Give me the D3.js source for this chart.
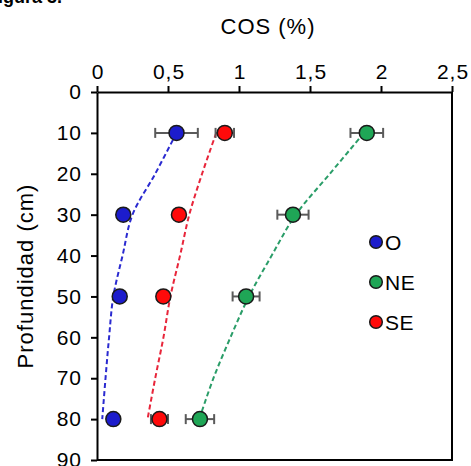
<!DOCTYPE html>
<html>
<head>
<meta charset="utf-8">
<script src="https://cdn.jsdelivr.net/npm/d3@7"></script>
<style>
  body { margin: 0; background: #fff; }
  text { font-family: "Liberation Sans", Arial, sans-serif; }
</style>
</head>
<body>
<div id="chart"></div>
<script>
const width = 471;
const height = 466;

// depths (cm) of the sampled layers
const depths = [10, 30, 50, 80];

// COS (%) means and error bars per zone
const cosO = [0.56, 0.185, 0.16, 0.115];
const errO = [0.15, 0.03, 0.03, 0.02];
const cosNE = [1.9, 1.38, 1.05, 0.725];
const errNE = [0.115, 0.11, 0.095, 0.1];
const cosSE = [0.9, 0.577, 0.467, 0.44];
const errSE = [0.065, 0.03, 0.03, 0.06];

// dashed trend lines
const fitDepths = [10, 20, 30, 40, 50, 60, 70, 80];
const fitO = [0.56, 0.41, 0.25, 0.18, 0.115, 0.085, 0.06, 0.037];
const fitNE = [1.88, 1.64, 1.4, 1.23, 1.07, 0.94, 0.82, 0.72];
const fitSE = [0.84, 0.74, 0.65, 0.585, 0.517, 0.468, 0.41, 0.356];

const xTicks = [0, 0.5, 1, 1.5, 2, 2.5];
const yTicks = [0, 10, 20, 30, 40, 50, 60, 70, 80, 90];

const series = [
  { name: "O", cos: cosO, err: errO, fit: fitO, fill: "#1c1ccc", line: "#2a2ad0" },
  { name: "NE", cos: cosNE, err: errNE, fit: fitNE, fill: "#1fa656", line: "#2a9d68" },
  { name: "SE", cos: cosSE, err: errSE, fit: fitSE, fill: "#ff0a0a", line: "#e8253a" },
];

const svg = d3
  .select("#chart")
  .append("svg")
  .attr("width", width)
  .attr("height", height);

let x = d3.scaleLinear().domain([0, 2.5]).range([97, 452]);
let y = d3.scaleLinear().domain([0, 90]).range([92, 460]);

// cut-off caption at the very top
svg
  .append("text")
  .attr("x", 62)
  .attr("y", 3)
  .attr("text-anchor", "end")
  .style("font-size", "18px")
  .style("font-weight", "bold")
  .text("Figura 3.");

// plot frame (right + bottom)
svg
  .append("path")
  .attr("d", `M${x(2.5)},${y(0)}V${y(90)}H${x(0)}`)
  .attr("fill", "none")
  .attr("stroke", "#000")
  .attr("stroke-width", 2);

const xAxis = svg
  .append("g")
  .attr("transform", `translate(0,${y(0)})`)
  .call(
    d3
      .axisTop(x)
      .tickValues(xTicks)
      .tickSize(6)
      .tickSizeOuter(0)
      .tickFormat((d) => String(d).replace(".", ","))
  );

const yAxis = svg
  .append("g")
  .attr("transform", `translate(${x(0)},0)`)
  .call(d3.axisLeft(y).tickValues(yTicks).tickSize(6).tickSizeOuter(0));

[xAxis, yAxis].forEach((g) => {
  g.select(".domain").attr("stroke", "#000").attr("stroke-width", 2);
  g.selectAll(".tick line").attr("stroke", "#000").attr("stroke-width", 2);
  g.selectAll(".tick text")
    .attr("fill", "#000")
    .style("font-size", "21px")
    .style("letter-spacing", "1px")
    .style("font-family", '"Liberation Sans", Arial, sans-serif');
});
xAxis.selectAll(".tick text").attr("y", -13).attr("dx", "0.5px");
yAxis.selectAll(".tick text").attr("x", -15);

// axis titles
svg
  .append("text")
  .attr("x", 268)
  .attr("y", 34)
  .attr("text-anchor", "middle")
  .style("font-size", "22px")
  .style("letter-spacing", "1px")
  .text("COS (%)");

svg
  .append("text")
  .attr("transform", `translate(33,276) rotate(-90)`)
  .attr("text-anchor", "middle")
  .style("font-size", "22px")
  .style("letter-spacing", "1px")
  .text("Profundidad (cm)");

// trend lines
const line = d3
  .line()
  .x((d) => x(d[0]))
  .y((d) => y(d[1]))
  .curve(d3.curveCatmullRom);

series.forEach((s) => {
  svg
    .append("path")
    .datum(s.fit.map((v, i) => [v, fitDepths[i]]))
    .attr("d", line)
    .attr("fill", "none")
    .attr("stroke", s.line)
    .attr("stroke-width", 2)
    .attr("stroke-dasharray", "5,3");
});

// error bars
series.forEach((s) => {
  const g = svg.append("g").attr("stroke", "#5a5a5a").attr("stroke-width", 2);
  depths.forEach((dep, i) => {
    const lo = x(s.cos[i] - s.err[i]);
    const hi = x(s.cos[i] + s.err[i]);
    const yy = y(dep);
    g.append("line").attr("x1", lo).attr("x2", hi).attr("y1", yy).attr("y2", yy);
    g.append("line").attr("x1", lo).attr("x2", lo).attr("y1", yy - 5).attr("y2", yy + 5);
    g.append("line").attr("x1", hi).attr("x2", hi).attr("y1", yy - 5).attr("y2", yy + 5);
  });
});

// markers
series.forEach((s) => {
  svg
    .append("g")
    .selectAll("circle")
    .data(depths)
    .enter()
    .append("circle")
    .attr("cx", (d, i) => x(s.cos[i]))
    .attr("cy", (d) => y(d))
    .attr("r", 7.5)
    .attr("fill", s.fill)
    .attr("stroke", "#1a1a1a")
    .attr("stroke-width", 1.5);
});

// legend
const legend = svg
  .append("g")
  .selectAll("g")
  .data(series)
  .enter()
  .append("g")
  .attr("transform", (d, i) => `translate(376,${242 + i * 40})`);

legend
  .append("circle")
  .attr("r", 6.3)
  .attr("fill", (d) => d.fill)
  .attr("stroke", "#1a1a1a")
  .attr("stroke-width", 1.5);

legend
  .append("text")
  .attr("x", 9)
  .attr("y", 7.5)
  .style("font-size", "21px")
  .style("letter-spacing", "0.5px")
  .text((d) => d.name);
</script>
</body>
</html>
